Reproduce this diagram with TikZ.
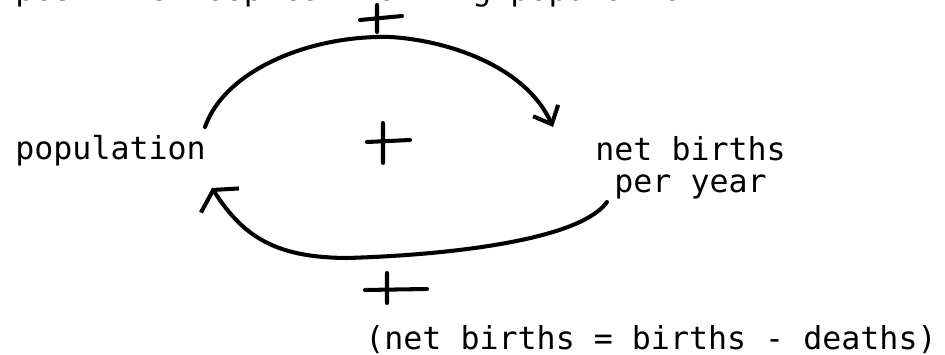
\documentclass[tikz,border=0pt]{standalone}
\usepackage{fontspec}
\setmonofont{DejaVu Sans Mono}
\usepackage{tikz}
\usetikzlibrary{positioning,arrows.meta}

\begin{document}
\begin{tikzpicture}[
  txt/.style={font=\ttfamily\fontsize{18}{18.7}\selectfont, inner sep=0pt, anchor=base west, align=left},
  loop/.style={line width=2.3pt, line cap=round},
  arr/.style={loop, -{Straight Barb[length=3mm, width=5.5mm, line width=2.3pt]}},
  widearr/.style={loop, -{Straight Barb[length=2.5mm, width=9mm, line width=2.3pt]}},
  sign/.style={line width=2.3pt, line cap=round}
]
\useasboundingbox (0,0) rectangle (18.9,7.1);
\clip (0,0) rectangle (18.9,7.1);
\node[txt] (title) at (0.30,7.08) {positive loop controlling population};
\node[txt] (pop) at (0.30,3.90) {population};
\node[txt] (nb) at (11.90,3.24) {net births\\\hphantom{n}per year};
\node[txt] (eq) at (7.30,0.10) {(net births = births - deaths)};
\coordinate (popout) at (4.10,4.56);
\coordinate (popin) at (4.24,3.34);
\coordinate (nbin) at (11.06,4.56);
\coordinate (nbout) at (12.14,3.06);
\draw[arr] (popout) .. controls (4.5,5.7) and (6.2,6.4) .. (7.8,6.36)
  .. controls (8.9,6.3) and (10.5,5.8) .. (nbin);
\draw[widearr] (nbout) .. controls (11.6,2.3) and (9.0,2.0) .. (6.94,1.94)
  .. controls (5.6,1.95) and (4.9,2.3) .. (popin);
\draw[sign] (7.20,6.70) -- (8.04,6.78) (7.54,7.00) -- (7.54,6.46);
\draw[sign] (7.34,4.26) -- (8.20,4.30) (7.66,4.64) -- (7.66,3.84);
\draw[sign] (7.30,1.30) -- (8.54,1.32) (7.74,1.64) -- (7.74,1.04);
\end{tikzpicture}
\end{document}
